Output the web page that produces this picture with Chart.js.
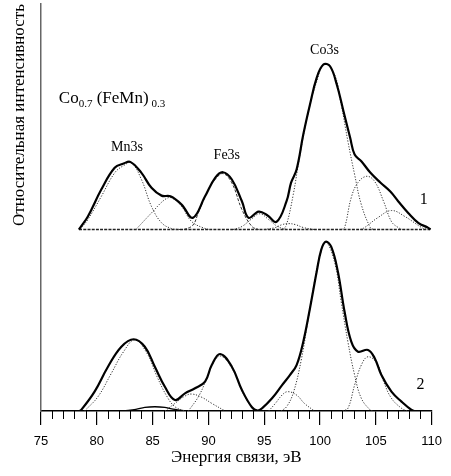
<!DOCTYPE html>
<html>
<head>
<meta charset="utf-8">
<script src="https://cdn.jsdelivr.net/npm/chart.js@4"></script>
<style>
  html, body { margin: 0; padding: 0; background: #fff; }
  canvas { display: block; }
</style>
</head>
<body>
<canvas id="chart" width="451" height="476"></canvas>
<script>
// energies in eV, intensities in arbitrary units above each spectrum's own baseline
const OFFSET_1 = 107; // spectrum 1 is shifted up

// spectrum 1 (upper) - envelope
const sum1E = [78.4, 78.5, 79.2, 80.4, 81.6, 82.4, 83.0, 84.0, 84.9, 85.8, 86.6, 87.6, 88.6, 89.7, 90.6, 91.3, 92.1, 93.0, 93.6, 94.5, 95.3, 96.1, 97.0, 97.4, 97.9, 98.5, 99.1, 99.7, 100.3, 100.9, 101.5, 102.1, 102.7, 103.1, 103.7, 104.5, 105.4, 106.3, 107.0, 107.9, 108.8, 109.7, 109.9];
const sum1I = [0, 1, 7.7, 23.6, 36.4, 38.9, 39.9, 33.4, 24.6, 20, 19.6, 14.7, 6.9, 19.6, 30.5, 33.8, 29.5, 16.7, 6.9, 10.6, 8.3, 4.5, 16.7, 27.5, 35.4, 56, 73.7, 89.4, 97.3, 96.3, 85.5, 69.8, 54.1, 44.2, 40.3, 33.6, 27.7, 22.4, 16.7, 9.8, 4, 1, 0];

// spectrum 1 - fitted components
const mn1E = [78.5, 79.2, 80.4, 81.6, 82.4, 83.1, 84.0, 84.9, 85.8, 86.7, 87.5];
const mn1I = [0, 5.9, 19.5, 33.4, 37.7, 39.3, 29.5, 13.6, 4, 0.6, 0];
const mnSat1E = [83.5, 84.9, 86.1, 86.7, 87.6, 88.5, 89.7, 90.2];
const mnSat1I = [0, 9.8, 17.7, 18.7, 13.6, 4.7, 0.6, 0];
const fe1E = [87.8, 88.6, 89.1, 90.0, 90.6, 91.3, 92.1, 93.0, 93.9, 94.5];
const fe1I = [0, 2.5, 10, 23.6, 29.5, 33, 27.5, 11.8, 1.8, 0];
const feSat1E = [92.2, 93.0, 93.8, 94.6, 95.4, 96.2, 97.0];
const feSat1I = [0, 1.8, 5.9, 9.3, 5.9, 1.8, 0];
const small1E = [95.0, 96.0, 96.6, 97.2, 97.8, 98.5, 99.5];
const small1I = [0, 1.2, 2.9, 3.5, 2.9, 1.2, 0];
const co1E = [96.7, 97.0, 97.6, 98.2, 98.9, 99.7, 100.4, 101.3, 101.9, 102.5, 103.1, 103.7, 104.5, 104.8];
const co1I = [0, 2.9, 20.6, 44.2, 67.8, 87.3, 97.7, 91.4, 73.7, 51.9, 32.4, 14.7, 1.2, 0];
const coSatA1E = [101.9, 102.2, 102.8, 103.4, 104.2, 104.9, 105.7, 106.4, 107.0, 107.4];
const coSatA1I = [0, 1.2, 18.9, 27.7, 31.4, 28.3, 16.5, 4.7, 1.2, 0];
const coSatB1E = [103.6, 104.0, 105.2, 106.4, 107.6, 109.1, 109.6];
const coSatB1I = [0, 1.2, 7.1, 11.2, 7.7, 1.2, 0];
const base1E = [78.4, 109.8];
const base1I = [0, 0];

// spectrum 2 (lower) - envelope
const sum2E = [78.4, 78.6, 79.8, 81.0, 82.2, 83.3, 84.3, 85.2, 86.1, 87.0, 87.9, 88.8, 89.7, 90.3, 91.05, 92.1, 93.0, 93.9, 94.4, 94.8, 95.7, 96.6, 97.3, 97.9, 98.5, 99.1, 99.7, 100.1, 100.5, 101.0, 101.6, 102.2, 102.8, 103.4, 104.3, 104.9, 105.5, 106.4, 107.3, 108.2, 108.5];
const sum2I = [0, 0.6, 11.4, 26.1, 37.9, 42.3, 37.9, 26.1, 14.3, 6.5, 10.4, 13.4, 17.3, 27.1, 33.6, 26.1, 12.4, 2.2, 0.3, 1.6, 7.5, 15.3, 21.2, 27.1, 40.9, 60.6, 82.1, 94.9, 99.8, 96.9, 82.1, 58.5, 40.9, 35, 36, 31.1, 21.2, 11.4, 5.5, 0.6, 0];

// spectrum 2 - fitted components
const mn2E = [78.9, 80.1, 81.3, 82.4, 83.4, 84.5, 85.4, 86.3, 87.0, 87.9];
const mn2I = [0, 8.4, 22.2, 35, 41.9, 34, 20.2, 8.4, 2.5, 0];
const mnBroad2E = [82.4, 83.5, 84.3, 85.2, 86.1, 87.0, 87.9];
const mnBroad2I = [0, 0.9, 2.1, 2.5, 2.1, 0.9, 0];
const feSat2E = [86.1, 87.0, 87.9, 88.5, 89.4, 90.3, 91.5];
const feSat2I = [0, 4.5, 8.8, 10, 8.1, 4.5, 0];
const fe2E = [88.2, 89.1, 89.8, 90.4, 91.1, 92.1, 93.0, 93.9, 94.4];
const fe2I = [0, 8.4, 18.3, 28.1, 32.4, 25.4, 11.8, 2.2, 0];
const small2E = [95.4, 96.0, 96.6, 97.1, 97.9, 98.6, 99.5];
const small2I = [0, 4.5, 9.4, 11.4, 9.4, 4.5, 0];
const co2E = [96.5, 97.0, 97.6, 98.3, 98.9, 99.5, 100.0, 100.5, 101.3, 101.9, 102.5, 103.1, 103.7, 104.5, 104.8];
const co2I = [0, 2.5, 10.6, 29.5, 52.5, 76, 92, 99.8, 87.9, 64.3, 40.7, 21.2, 7.5, 0.6, 0];
const coSat2E = [102.0, 102.5, 103.1, 103.7, 104.3, 105.1, 105.7, 106.4, 107.3, 107.8];
const coSat2I = [0, 1.6, 15.3, 27.1, 32, 28.1, 17.3, 7.5, 1.6, 0];

const xTicksMinor = [76, 77, 78, 79, 81, 82, 83, 84, 86, 87, 88, 89, 91, 92, 93, 94, 96, 97, 98, 99, 101, 102, 103, 104, 106, 107, 108, 109];

function pts(es, is, off) {
  return es.map((e, i) => ({ x: e, y: is[i] + off }));
}

function solidLine(es, is, off) {
  return { data: pts(es, is, off), borderColor: "#000", borderWidth: 2.2, order: 0 };
}

function dotLine(es, is, off, dash) {
  return {
    data: pts(es, is, off),
    borderColor: "#333",
    borderWidth: 1,
    borderDash: dash || [1.2, 1.6],
    order: 1,
  };
}

const datasets = [
  solidLine(sum1E, sum1I, OFFSET_1),
  solidLine(sum2E, sum2I, 0),
  dotLine(mn1E, mn1I, OFFSET_1),
  dotLine(mnSat1E, mnSat1I, OFFSET_1),
  dotLine(fe1E, fe1I, OFFSET_1, [3, 1.6]),
  dotLine(feSat1E, feSat1I, OFFSET_1),
  dotLine(small1E, small1I, OFFSET_1),
  dotLine(co1E, co1I, OFFSET_1),
  dotLine(coSatA1E, coSatA1I, OFFSET_1),
  dotLine(coSatB1E, coSatB1I, OFFSET_1),
  { data: pts(base1E, base1I, OFFSET_1), borderColor: "#222", borderWidth: 1.6, borderDash: [3, 1.2], order: 2 },
  dotLine(mn2E, mn2I, 0),
  { data: pts(mnBroad2E, mnBroad2I, 0), borderColor: "#000", borderWidth: 1.3, order: 1 },
  dotLine(feSat2E, feSat2I, 0),
  dotLine(fe2E, fe2I, 0),
  dotLine(small2E, small2I, 0),
  dotLine(co2E, co2I, 0),
  dotLine(coSat2E, coSat2I, 0),
];

// text on the plot, placed in data coordinates
const notes = [
  { text: "Mn3s", x: 82.7, y: 155.7, size: 14 },
  { text: "Fe3s", x: 91.65, y: 151, size: 14 },
  { text: "Co3s", x: 100.4, y: 212.9, size: 14 },
  { text: "1", x: 109.3, y: 124.4, size: 16 },
  { text: "2", x: 109.0, y: 15.3, size: 16 },
];

const annotate = {
  id: "annotate",
  afterDraw(chart) {
    const { ctx, scales } = chart;
    const xs = scales.x, ys = scales.y;
    ctx.save();
    ctx.fillStyle = "#000";

    // minor ticks on the energy axis
    ctx.strokeStyle = "#000";
    ctx.lineWidth = 1;
    const y0 = ys.getPixelForValue(0);
    xTicksMinor.forEach((v) => {
      const px = Math.round(xs.getPixelForValue(v)) + 0.5;
      ctx.beginPath();
      ctx.moveTo(px, y0);
      ctx.lineTo(px, y0 + 8);
      ctx.stroke();
    });

    ctx.textAlign = "center";
    ctx.textBaseline = "middle";
    notes.forEach((n) => {
      ctx.font = n.size + "px 'Liberation Serif', 'Times New Roman', serif";
      ctx.fillText(n.text, xs.getPixelForValue(n.x), ys.getPixelForValue(n.y));
    });

    // composition with subscripts
    let px = xs.getPixelForValue(76.6);
    const py = ys.getPixelForValue(185);
    ctx.textAlign = "left";
    ctx.textBaseline = "alphabetic";
    const parts = [
      { t: "Co", s: 17, dy: 6 },
      { t: "0.7", s: 11, dy: 10 },
      { t: " (FeMn)", s: 17, dy: 6 },
      { t: " 0.3", s: 11, dy: 10 },
    ];
    parts.forEach((p) => {
      ctx.font = p.s + "px 'Liberation Serif', 'Times New Roman', serif";
      ctx.fillText(p.t, px, py + p.dy);
      px += ctx.measureText(p.t).width;
    });
    ctx.restore();
  },
};

new Chart(document.getElementById("chart"), {
  type: "line",
  data: { datasets },
  options: {
    responsive: false,
    animation: false,
    events: [],
    layout: { padding: { top: 4, right: 19, left: 0, bottom: 0 } },
    elements: {
      point: { radius: 0 },
      line: { tension: 0.4, fill: false },
    },
    plugins: { legend: { display: false }, tooltip: { enabled: false } },
    scales: {
      x: {
        type: "linear",
        min: 75,
        max: 110,
        ticks: {
          stepSize: 5,
          maxRotation: 0,
          padding: 9,
          color: "#000",
          font: { family: "'Liberation Sans', Arial, sans-serif", size: 13 },
        },
        grid: { drawOnChartArea: false, drawTicks: true, tickLength: 14, color: "#000", lineWidth: 1.2 },
        border: { color: "#000", width: 1.6 },
        title: {
          display: true,
          text: "Энергия связи, эВ",
          color: "#000",
          font: { family: "'Liberation Serif', 'Times New Roman', serif", size: 17 },
          padding: { top: 0, bottom: 8 },
        },
        afterFit: (s) => { s.height = 65; },
      },
      y: {
        min: 0,
        max: 240,
        ticks: { display: false },
        grid: { display: false },
        border: { color: "#666", width: 1.5 },
        title: {
          display: true,
          text: "Относительная интенсивность",
          align: "end",
          color: "#000",
          font: { family: "'Liberation Serif', 'Times New Roman', serif", size: 17 },
          padding: { top: 9, bottom: 0 },
        },
        afterFit: (s) => { s.width = 41; },
      },
    },
  },
  plugins: [annotate],
});
</script>
</body>
</html>
